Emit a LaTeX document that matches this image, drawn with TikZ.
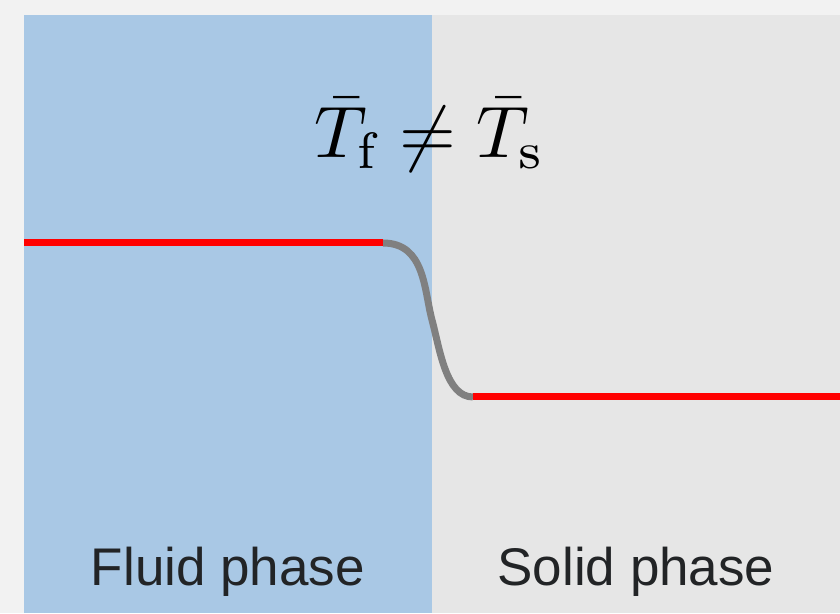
\documentclass[tikz,border=0pt]{standalone}
\usepackage{fontspec}
\newfontfamily\labelfont{Liberation Sans}
\definecolor{bgc}{HTML}{F2F2F2}
\definecolor{fluidc}{HTML}{A9C8E5}
\definecolor{solidc}{HTML}{E6E6E6}
\definecolor{textc}{HTML}{222426}
\begin{document}
\begin{tikzpicture}[x=1pt,y=1pt,
  phaselabel/.style={font=\labelfont\fontsize{53}{60}\selectfont, text=textc, anchor=base, inner sep=0pt},
  profile/.style={line width=7pt, red},
  transition/.style={line width=7pt, gray}]
\useasboundingbox (0,0) rectangle (840,613);
\fill[bgc] (0,0) rectangle (840,613);
\fill[fluidc] (24,0) rectangle (432,598);
\fill[solidc] (432,0) rectangle (840,598);
\coordinate (l0) at (24,370);
\coordinate (l1) at (383,370);
\coordinate (m) at (432,293);
\coordinate (r0) at (473,216);
\coordinate (r1) at (840,216);
\draw[transition] (l1) .. controls (425,370) and (424,323) .. (m)
  .. controls (440,263) and (446,216) .. (r0);
\draw[profile] (l0) -- (l1);
\draw[profile] (r0) -- (r1);
\node[anchor=base, inner sep=0pt, scale=7.3] (eq) at (430,455) {$\bar{T}_\mathrm{f} \neq \bar{T}_\mathrm{s}$};
\node[phaselabel] (fluid) at (228,28) {Fluid phase};
\node[phaselabel] (solid) at (636,28) {Solid phase};
\end{tikzpicture}
\end{document}
